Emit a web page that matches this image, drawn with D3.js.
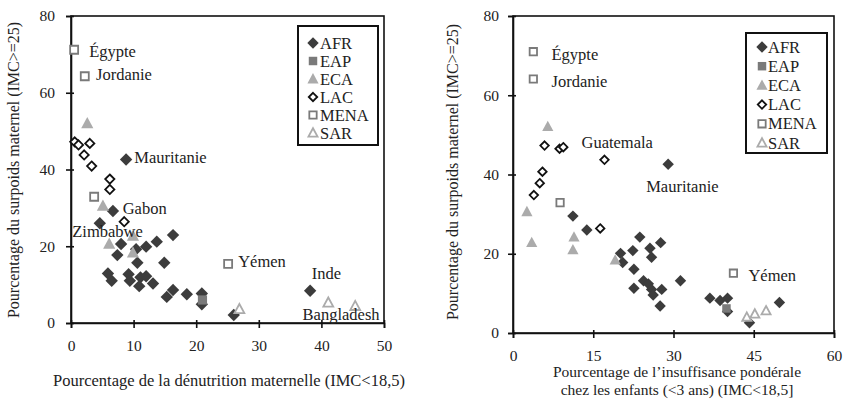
<!DOCTYPE html>
<html><head><meta charset="utf-8">
<script src="https://cdn.jsdelivr.net/npm/d3@7/dist/d3.min.js"></script>
<style>body{margin:0;background:#fff}svg text{font-family:"Liberation Serif","DejaVu Serif",serif;fill:#222}</style>
</head><body><svg id="c" width="843" height="401"></svg>
<script>
// ---------- DATA ----------
const seriesNames = ["AFR","EAP","ECA","LAC","MENA","SAR"];
const leftXTicks = [0,10,20,30,40,50];
const rightXTicks = [0,15,30,45,60];
const yTicks = [0,20,40,60,80];

// Left chart: maternal undernutrition (x) vs maternal overweight (y)
const leftAFR = [[8.8,42.6],[6.7,29.2],[4.6,26.0],[16.3,22.9],[13.7,21.2],[12.0,19.9],[10.4,19.2],[8.0,20.6],[7.4,17.7],[10.6,15.7],[14.9,15.7],[5.9,12.9],[6.5,11.0],[9.2,12.7],[9.4,11.0],[11.1,11.9],[12.0,12.2],[10.9,9.6],[13.1,10.3],[16.3,8.6],[15.3,6.8],[18.5,7.5],[20.9,7.7],[20.9,4.9],[26.0,2.1],[38.2,8.4]];
const leftEAP = [[21.0,6.0]];
const leftECA = [[2.6,52.0],[5.1,30.5],[6.1,20.6],[9.9,22.7],[9.9,18.3]];
const leftLAC = [[0.6,47.2],[1.2,46.4],[3.0,46.8],[2.1,43.8],[3.3,40.9],[6.2,37.5],[6.2,34.8],[8.5,26.4]];
const leftMENA = [[0.5,71.2],[2.2,64.3],[3.7,32.9],[25.1,15.4]];
const leftSAR = [[26.9,3.6],[41.1,5.3],[45.4,4.4]];
const leftLabels = [["Égypte",2.9,69.3],["Jordanie",4.0,63.3],["Mauritanie",10.1,41.7],["Gabon",8.26,28.4],["Zimbabwe",0.2,22.5],["Yémen",26.7,14.7],["Inde",38.45,11.5],["Bangladesh",37.0,0.8]];

// Right chart: child underweight (x) vs maternal overweight (y)
const rightAFR = [[29.0,42.6],[11.2,29.5],[13.8,26.0],[23.7,24.2],[27.6,22.8],[25.6,21.4],[22.4,20.8],[20.1,20.1],[20.5,17.8],[25.9,19.1],[22.6,16.1],[31.3,13.2],[24.4,13.2],[25.3,12.4],[22.6,11.3],[25.9,11.0],[27.8,11.0],[26.2,9.6],[27.5,6.8],[36.8,8.8],[38.7,8.2],[40.1,8.8],[40.1,5.4],[49.8,7.7],[44.2,2.6]];
const rightEAP = [[39.9,6.2]];
const rightECA = [[6.5,52.1],[2.6,30.6],[3.5,22.8],[11.4,24.2],[11.2,21.0],[19.1,18.4]];
const rightLAC = [[5.9,47.3],[8.7,46.5],[9.4,46.9],[17.1,43.7],[5.5,40.7],[5.0,37.8],[3.9,34.8],[16.3,26.4]];
const rightMENA = [[3.8,71.0],[3.8,64.1],[8.8,32.9],[41.2,15.1]];
const rightSAR = [[43.7,4.0],[45.2,4.8],[47.3,5.6]];
const rightLabels = [["Égypte",7.2,68.9],["Jordanie",7.2,62.0],["Guatemala",12.8,46.6],["Mauritanie",24.9,35.7],["Yémen",44.0,13.2]];

const yTitle = "Pourcentage du surpoids maternel (IMC>=25)";
const leftXTitle = ["Pourcentage de la dénutrition maternelle (IMC<18,5)"];
const rightXTitle = ["Pourcentage de l’insuffisance pondérale","chez les enfants (<3 ans) (IMC<18,5]"];

// ---------- STYLE ----------
const styles = {
  AFR:{shape:"diamond",fill:"#3c3c3c",stroke:"none"},
  EAP:{shape:"square",fill:"#7a7a7a",stroke:"none"},
  ECA:{shape:"triangle",fill:"#ababab",stroke:"none"},
  LAC:{shape:"diamond",fill:"#fff",stroke:"#111"},
  MENA:{shape:"square",fill:"#fff",stroke:"#7a7a7a"},
  SAR:{shape:"triangle",fill:"#fff",stroke:"#ababab"}
};
function markerPath(s, big){
  const k = big?1:0.92;
  if(s.shape==="diamond"){ const r=(s.fill==="#fff"?4.6:6.2)*k; return `M0,${-r}L${r},0L0,${r}L${-r},0Z`; }
  if(s.shape==="square"){ const r=(s.fill==="#fff"?4.0:4.6)*k; return `M${-r},${-r}H${r}V${r}H${-r}Z`; }
  const r=(s.fill==="#fff"?5.2:6.4)*k; return `M0,${-r}L${r*0.95},${r*0.75}L${-r*0.95},${r*0.75}Z`;
}

const svg = d3.select("#c");

function drawChart(cfg){
  const x = d3.scaleLinear().domain(cfg.xDomain).range(cfg.xRange);
  const y = d3.scaleLinear().domain([0,80]).range(cfg.yRange);
  const g = svg.append("g");
  g.append("rect").attr("x",cfg.xRange[0]).attr("y",cfg.yRange[1])
    .attr("width",cfg.xRange[1]-cfg.xRange[0]).attr("height",cfg.yRange[0]-cfg.yRange[1])
    .attr("fill","none").attr("stroke","#111").attr("stroke-width",1.6);
  const xa = g.append("g").attr("transform",`translate(0,${cfg.yRange[0]})`)
    .call(d3.axisBottom(x).tickValues(cfg.xTicks).tickSize(5).tickPadding(cfg.xPad));
  const ya = g.append("g").attr("transform",`translate(${cfg.xRange[0]},0)`)
    .call(d3.axisLeft(y).tickValues(yTicks).tickSize(5).tickPadding(cfg.yPad));
  [xa,ya].forEach(a=>{
    a.select(".domain").attr("stroke","#111").attr("stroke-width",1.6);
    a.selectAll(".tick line").attr("stroke","#111").attr("stroke-width",1.6);
    a.selectAll(".tick text").attr("font-size",15.5).attr("fill","#222").attr("font-family","Liberation Serif");
  });
  xa.selectAll(".tick line").attr("y1",-3);
  ya.selectAll(".tick line").attr("x1",3);
  cfg.series.forEach((data,i)=>{
    const s = styles[seriesNames[i]];
    g.append("g").selectAll("path").data(data).join("path")
      .attr("d",markerPath(s,cfg.big))
      .attr("transform",d=>`translate(${x(d[0])},${y(d[1])})`)
      .attr("fill",s.fill).attr("stroke",s.stroke).attr("stroke-width",s.stroke==="none"?0:1.8);
  });
  g.append("g").selectAll("text").data(cfg.labels).join("text")
    .attr("x",d=>x(d[1])).attr("y",d=>y(d[2])).attr("font-size",16.5).text(d=>d[0]);
  const L = cfg.legend;
  g.append("rect").attr("x",L.x).attr("y",L.y).attr("width",L.w).attr("height",L.h)
    .attr("fill","#fff").attr("stroke","#111").attr("stroke-width",2);
  seriesNames.forEach((n,i)=>{
    const s = styles[n];
    const cy = L.y + L.top + i*L.step;
    g.append("path").attr("d",markerPath(s,false)).attr("transform",`translate(${L.x+L.mx},${cy})`)
      .attr("fill",s.fill).attr("stroke",s.stroke).attr("stroke-width",s.stroke==="none"?0:1.8);
    g.append("text").attr("x",L.x+L.tx).attr("y",cy+5.5).attr("font-size",16.5).text(n);
  });
  cfg.xTitle.forEach((t,i)=>{
    g.append("text").attr("x",cfg.xTitleX).attr("y",cfg.xTitleY+i*cfg.xTitleStep).attr("text-anchor","middle")
      .attr("font-size",cfg.xTitleSize).text(t);
  });
  g.append("text").attr("transform",`translate(${cfg.yTitleX},${cfg.yTitleY}) rotate(-90)`)
    .attr("text-anchor","middle").attr("font-size",16).text(yTitle);
}

drawChart({xDomain:[0,50],xRange:[71,384],yRange:[323,16],xTicks:leftXTicks,xPad:12,yPad:11,big:true,
  series:[leftAFR,leftEAP,leftECA,leftLAC,leftMENA,leftSAR],labels:leftLabels,
  legend:{x:298,y:26,w:80,h:119,top:17,step:18,mx:15,tx:22},
  xTitle:leftXTitle,xTitleX:229,xTitleY:386,xTitleStep:0,xTitleSize:16.5,yTitleX:19,yTitleY:170});
drawChart({xDomain:[0,60],xRange:[513,834],yRange:[333,16],xTicks:rightXTicks,xPad:12,yPad:9,big:false,
  series:[rightAFR,rightEAP,rightECA,rightLAC,rightMENA,rightSAR],labels:rightLabels,
  legend:{x:746,y:33,w:81,h:120,top:14,step:19.2,mx:16,tx:22},
  xTitle:rightXTitle,xTitleX:677,xTitleY:377,xTitleStep:17.5,xTitleSize:15.5,yTitleX:458,yTitleY:172});
</script></body></html>
